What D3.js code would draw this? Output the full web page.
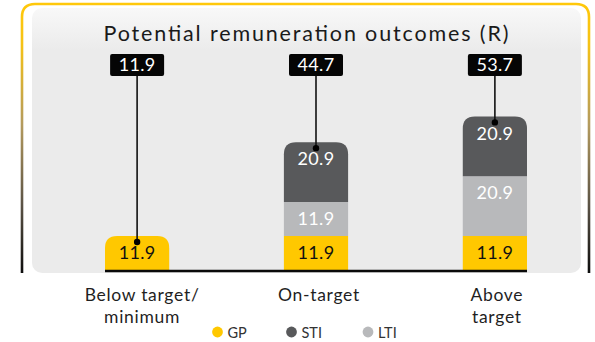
<!DOCTYPE html>
<html>
<head>
<meta charset="utf-8">
<script src="https://cdn.jsdelivr.net/npm/d3@7"></script>
<style>
  html, body { margin: 0; padding: 0; background: #ffffff; }
  svg { display: block; font-family: "Lato", "Open Sans", sans-serif; }
</style>
</head>
<body>
<svg id="chart" width="595" height="342"></svg>
<script>
// Remuneration scenarios (R), stacked GP + LTI + STI
const categories = ["Below target/\nminimum", "On-target", "Above\ntarget"];
const gpValues  = [11.9, 11.9, 11.9];
const ltiValues = [0, 11.9, 20.9];
const stiValues = [0, 20.9, 20.9];
const totals    = [11.9, 44.7, 53.7];
const seriesNames = ["GP", "STI", "LTI"];
const title = "Potential remuneration outcomes (R)";

const colors = { GP: "#ffc800", STI: "#58595b", LTI: "#b8b9bb" };
const textColors = { GP: "#111111", STI: "#ffffff", LTI: "#ffffff" };

const svg = d3.select("#chart");
const defs = svg.append("defs");

// Frame gradient: gold at the top fading to near-black at the bottom
const fg = defs.append("linearGradient").attr("id", "frameGrad")
  .attr("gradientUnits", "userSpaceOnUse")
  .attr("x1", 0).attr("y1", 4).attr("x2", 0).attr("y2", 273);
[[0, "#ffc80a"], [0.15, "#f5c216"], [0.45, "#b39a5e"], [0.75, "#5a5245"], [1, "#0d0d0d"]]
  .forEach(([o, c]) => fg.append("stop").attr("offset", o).attr("stop-color", c));

// Panel gradient: slightly lighter along the top
const pg = defs.append("linearGradient").attr("id", "panelGrad")
  .attr("x1", 0).attr("y1", 0).attr("x2", 0).attr("y2", 1);
[[0, "#f8f8f8"], [0.16, "#ebebeb"], [1, "#ebebeb"]]
  .forEach(([o, c]) => pg.append("stop").attr("offset", o).attr("stop-color", c));

// Outer frame, open at the bottom
const fl = 22, fr = 589, ft = 4, fb = 273, fr0 = 13;
svg.append("path")
  .attr("d", `M${fl},${fb} L${fl},${ft + fr0} Q${fl},${ft} ${fl + fr0},${ft} L${fr - fr0},${ft} Q${fr},${ft} ${fr},${ft + fr0} L${fr},${fb}`)
  .attr("fill", "none").attr("stroke", "url(#frameGrad)").attr("stroke-width", 2.6);

// Inner panel
svg.append("rect")
  .attr("x", 32).attr("y", 8).attr("width", 549).attr("height", 265)
  .attr("rx", 10).attr("fill", "url(#panelGrad)");

// Title
svg.append("text")
  .attr("x", 306).attr("y", 41)
  .attr("text-anchor", "middle")
  .attr("font-size", 21.5)
  .attr("fill", "#1a1a1a")
  .attr("textLength", 405).attr("lengthAdjust", "spacing")
  .text(title);

// Scales
const x = d3.scaleBand().domain(categories).range([105, 527])
  .paddingInner(0.641).paddingOuter(0);
const y = d3.scaleLinear().domain([0, 60]).range([270, 270 - 60 * 2.86]);

// Stack the series in drawing order (bottom to top)
const rows = categories.map((c, i) => ({ cat: c, GP: gpValues[i], LTI: ltiValues[i], STI: stiValues[i] }));
const stack = d3.stack().keys(["GP", "LTI", "STI"]);
const stacked = stack(rows);

const radius = 12;
function segPath(x0, w, yTop, yBot, rounded) {
  if (!rounded) return `M${x0},${yBot} L${x0},${yTop} L${x0 + w},${yTop} L${x0 + w},${yBot} Z`;
  const r = Math.min(radius, (yBot - yTop));
  return `M${x0},${yBot} L${x0},${yTop + r} Q${x0},${yTop} ${x0 + r},${yTop} ` +
         `L${x0 + w - r},${yTop} Q${x0 + w},${yTop} ${x0 + w},${yTop + r} L${x0 + w},${yBot} Z`;
}

const bw = x.bandwidth();
const barG = svg.append("g");
stacked.forEach(layer => {
  const key = layer.key;
  layer.forEach((d, i) => {
    const v = d[1] - d[0];
    if (v <= 0) return;
    const isTop = Math.abs(d[1] - totals[i]) < 1e-6;
    const x0 = x(categories[i]);
    barG.append("path")
      .attr("d", segPath(x0, bw, y(d[1]), y(d[0]), isTop))
      .attr("fill", colors[key]);
    barG.append("text")
      .attr("x", x0 + bw / 2)
      .attr("y", y(d[1]) + 17)
      .attr("dy", "0.35em")
      .attr("text-anchor", "middle")
      .attr("font-size", 18)
      .attr("letter-spacing", 0.3)
      .attr("fill", textColors[key])
      .text(v.toFixed(1));
  });
});

// Baseline
svg.append("line")
  .attr("x1", x.range()[0]).attr("x2", x.range()[1])
  .attr("y1", 271).attr("y2", 271)
  .attr("stroke", "#0a0a0a").attr("stroke-width", 2.6);

// Total callouts with leader lines
const calloutTop = 54, calloutH = 22, calloutW = 54;
totals.forEach((t, i) => {
  const cx = x(categories[i]) + bw / 2;
  const yDot = y(t) + 6;
  svg.append("line")
    .attr("x1", cx).attr("x2", cx)
    .attr("y1", calloutTop + calloutH).attr("y2", yDot)
    .attr("stroke", "#111").attr("stroke-width", 1.6);
  svg.append("circle").attr("cx", cx).attr("cy", yDot).attr("r", 3.2).attr("fill", "#000");
  svg.append("rect")
    .attr("x", cx - calloutW / 2).attr("y", calloutTop)
    .attr("width", calloutW).attr("height", calloutH)
    .attr("rx", 2).attr("fill", "#050505");
  svg.append("text")
    .attr("x", cx).attr("y", calloutTop + calloutH / 2)
    .attr("dy", "0.36em")
    .attr("text-anchor", "middle")
    .attr("font-size", 18)
    .attr("letter-spacing", 0.3)
    .attr("fill", "#ffffff")
    .text(t.toFixed(1));
});

// Category labels
categories.forEach((c, i) => {
  const cx = x(c) + bw / 2 + [5, 3, 2][i];
  const t = svg.append("text")
    .attr("text-anchor", "middle")
    .attr("font-size", 17.5)
    .attr("letter-spacing", 0.7)
    .attr("fill", "#1f1f1f");
  c.split("\n").forEach((line, j) => {
    t.append("tspan").attr("x", cx).attr("y", 301 + j * 21.5).text(line);
  });
});

// Legend
const legendX = [217.5, 291.5, 368];
seriesNames.forEach((s, i) => {
  svg.append("circle").attr("cx", legendX[i]).attr("cy", 332).attr("r", 5.4).attr("fill", colors[s]);
  svg.append("text")
    .attr("x", legendX[i] + 10).attr("y", 337.5)
    .attr("font-size", 14.5)
    .attr("fill", "#333333")
    .text(s);
});
</script>
</body>
</html>
